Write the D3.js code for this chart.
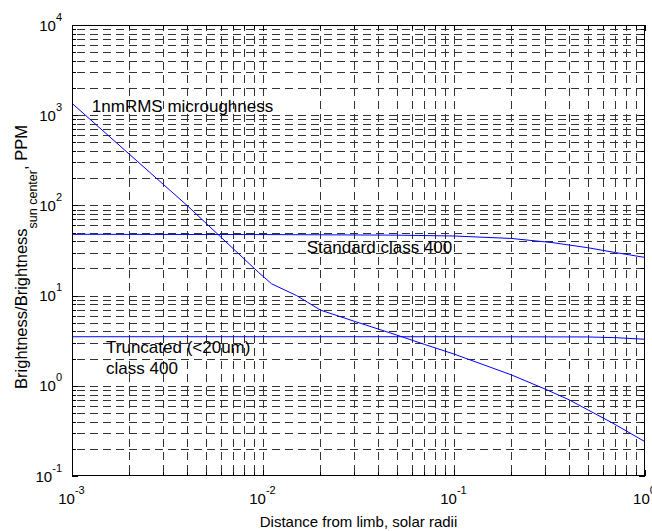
<!DOCTYPE html>
<html><head><meta charset="utf-8">
<script src="https://cdn.jsdelivr.net/npm/d3@7"></script>
<style>
body{margin:0;background:#fff}
svg{display:block;font-family:Arial,"Liberation Sans",Helvetica,sans-serif}
</style>
</head><body>
<svg id="chart" width="652" height="531"></svg>
<script>
// ---- data ----
const xTickExps = [-3, -2, -1, 0];
const yTickExps = [-1, 0, 1, 2, 3, 4];
const microX = [0.001, 0.004, 0.0095, 0.0111, 0.015, 0.02, 0.03, 0.05, 0.07, 0.1, 0.2, 0.3, 0.4, 0.68, 1];
const microY = [1355, 100, 18, 13.5, 10, 6.9, 5.2, 3.66, 2.88, 2.25, 1.32, 0.92, 0.70, 0.384, 0.24];
const standardX = [0.001, 0.01, 0.05, 0.1, 0.2, 0.33, 0.5, 0.7, 1];
const standardY = [47.8, 47.5, 46.8, 45.8, 43, 38.6, 34, 30, 26.5];
const truncX = [0.001, 0.1, 0.5, 0.7, 1];
const truncY = [3.5, 3.5, 3.48, 3.42, 3.28];
const annotationText = ["1nmRMS microughness", "Standard class 400", "Truncated (<20um)", "class 400"];
const annotationAt = [[0.00127, 1090], [0.01694, 29.4], [0.001507, 2.29], [0.001507, 1.35]];
const xLabel = "Distance from limb, solar radii";
const yLabelMain = "Brightness/Brightness";
const yLabelSub = "sun center";
const yLabelTail = ", PPM";

// ---- layout ----
const L = 72, R = 645, T = 25, B = 476;
const svg = d3.select("#chart");
const x = d3.scaleLog().domain([1e-3, 1]).range([L, R]);
const y = d3.scaleLog().domain([0.1, 1e4]).range([B, T]);
const px = v => Math.round(x(v)) + 0.5;
const py = v => Math.round(y(v)) + 0.5;

function allTicks(exps) {
  const t = [];
  for (let i = 0; i < exps.length - 1; i++)
    for (let k = 1; k <= 9; k++) t.push(k * Math.pow(10, exps[i]));
  t.push(Math.pow(10, exps[exps.length - 1]));
  return t.map(v => +v.toPrecision(6));
}
const xAll = allTicks(xTickExps);
const yAll = allTicks(yTickExps);
const isMajor = v => Math.abs(Math.log10(v) - Math.round(Math.log10(v))) < 1e-6;

// grid
const grid = svg.append("g").attr("stroke", "#333").attr("stroke-width", 1).attr("stroke-dasharray", "8,5");
grid.selectAll("line.v").data(xAll.filter(v => v > 1e-3 && v < 1)).join("line")
  .attr("x1", v => px(v)).attr("x2", v => px(v)).attr("y1", B).attr("y2", T)
  .attr("stroke-dashoffset", 10);
grid.selectAll("line.h").data(yAll.filter(v => v > 0.1 && v < 1e4)).join("line")
  .attr("x1", L).attr("x2", R).attr("y1", v => py(v)).attr("y2", v => py(v))
  .attr("stroke-dashoffset", 8);

// series
const line = d3.line().x(d => x(d[0])).y(d => y(d[1]));
const series = [d3.zip(microX, microY), d3.zip(standardX, standardY), d3.zip(truncX, truncY)];
svg.append("g").selectAll("path").data(series).join("path")
  .attr("d", line).attr("fill", "none").attr("stroke", "#0000ff").attr("stroke-width", 1);

// box + ticks
const ax = svg.append("g").attr("stroke", "#000").attr("stroke-width", 1);
ax.append("rect").attr("x", L + 0.5).attr("y", T + 0.5).attr("width", R - L - 1).attr("height", B - T - 1).attr("fill", "none");
xAll.forEach(v => {
  const len = isMajor(v) ? 6 : 4;
  ax.append("line").attr("x1", px(v)).attr("x2", px(v)).attr("y1", B).attr("y2", B - len);
  ax.append("line").attr("x1", px(v)).attr("x2", px(v)).attr("y1", T).attr("y2", T + len);
});
yAll.forEach(v => {
  const len = isMajor(v) ? 6 : 4;
  ax.append("line").attr("y1", py(v)).attr("y2", py(v)).attr("x1", L).attr("x2", L + len);
  ax.append("line").attr("y1", py(v)).attr("y2", py(v)).attr("x1", R).attr("x2", R - len);
});

// tick labels
const xl = svg.append("g").attr("font-size", 15).attr("fill", "#000");
xTickExps.forEach(e => {
  const t = xl.append("text").attr("x", x(Math.pow(10, e)) - 0.5).attr("y", 504).attr("text-anchor", "middle");
  t.append("tspan").text("10");
  t.append("tspan").attr("dy", -10).attr("font-size", 11).text(String(e));
});
const yl = svg.append("g").attr("font-size", 15).attr("fill", "#000");
yTickExps.forEach(e => {
  const t = yl.append("text").attr("x", 62).attr("y", y(Math.pow(10, e)) + 5.5).attr("text-anchor", "end");
  t.append("tspan").text("10");
  t.append("tspan").attr("dy", -10).attr("font-size", 11).text(String(e));
});

// annotations
svg.append("g").attr("font-size", 17).attr("fill", "#000")
  .selectAll("text").data(annotationText).join("text")
  .attr("x", (d, i) => x(annotationAt[i][0])).attr("y", (d, i) => y(annotationAt[i][1]))
  .text(d => d);

// axis labels
svg.append("text").attr("x", (L + R) / 2).attr("y", 527).attr("text-anchor", "middle")
  .attr("font-size", 15).text(xLabel);
const yt = svg.append("text").attr("transform", "translate(27,257) rotate(-90)")
  .attr("text-anchor", "middle").attr("font-size", 16.5);
yt.append("tspan").text(yLabelMain);
yt.append("tspan").attr("font-size", 12.5).attr("dy", 10).text(yLabelSub);
yt.append("tspan").attr("dy", -10).text(yLabelTail);
</script>
</body></html>
